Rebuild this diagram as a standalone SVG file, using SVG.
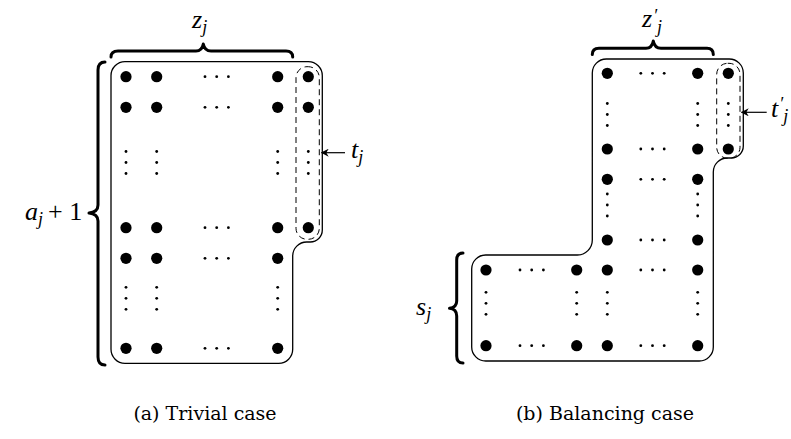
<svg xmlns="http://www.w3.org/2000/svg" width="791" height="439" viewBox="0 0 791 439">
<defs>
<style>
.out{fill:none;stroke:#000;stroke-width:1.3}
.dash{fill:none;stroke:#000;stroke-width:1;stroke-dasharray:6 4}
.br{fill:none;stroke:#000;stroke-width:3;stroke-linecap:round;stroke-linejoin:round}
.arr{fill:none;stroke:#000;stroke-width:1.2}
.m{font-family:"Liberation Serif",serif;font-style:italic;font-size:26px;fill:#000}
.sub{font-family:"Liberation Serif",serif;font-style:italic;font-size:18px}
.r{font-family:"Liberation Serif",serif;font-style:normal;font-size:26px}
.cap{font-family:"DejaVu Serif",serif;font-size:19px;fill:#000}
</style>
<marker id="ah" viewBox="0 0 10 10" refX="9" refY="5" markerWidth="8" markerHeight="8" markerUnits="userSpaceOnUse" orient="auto">
<path d="M0,0 L10,5 L0,10 L3,5 Z" fill="#000"/>
</marker>
<circle id="d" r="5.6" fill="#000"/>
<g id="h"><circle cx="-11.7" r="1.4"/><circle cx="0" r="1.4"/><circle cx="11.7" r="1.4"/></g>
<g id="v"><circle cy="-11" r="1.4"/><circle cy="0" r="1.4"/><circle cy="11" r="1.4"/></g>
</defs>
<rect width="791" height="439" fill="#fff"/>

<g id="caseA">
<path class="out" d="M125,61.7 L308.3,61.7 A14,14 0 0 1 322.3,75.7 L322.3,230 A12,12 0 0 1 310.3,242 L306.7,242 A14,14 0 0 0 292.7,256 L292.7,349.3 A14,14 0 0 1 278.7,363.3 L125,363.3 A14,14 0 0 1 111,349.3 L111,75.7 A14,14 0 0 1 125,61.7 Z"/>
<rect class="dash" x="296" y="66.7" width="23.3" height="172.6" rx="11" ry="11"/>
<g fill="#000">
<use href="#d" x="126" y="76.7"/><use href="#d" x="156.7" y="76.7"/><use href="#d" x="277.7" y="76.7"/><use href="#d" x="308.3" y="76.7"/>
<use href="#d" x="126" y="107.3"/><use href="#d" x="156.7" y="107.3"/><use href="#d" x="277.7" y="107.3"/><use href="#d" x="308.3" y="107.3"/>
<use href="#d" x="126" y="227.7"/><use href="#d" x="156.7" y="227.7"/><use href="#d" x="277.7" y="227.7"/><use href="#d" x="308.3" y="227.7"/>
<use href="#d" x="126" y="258.3"/><use href="#d" x="156.7" y="258.3"/><use href="#d" x="277.7" y="258.3"/>
<use href="#d" x="126" y="348.3"/><use href="#d" x="156.7" y="348.3"/><use href="#d" x="277.7" y="348.3"/>
<use href="#h" x="216.7" y="76.7"/><use href="#h" x="216.7" y="107.3"/><use href="#h" x="216.7" y="227.7"/><use href="#h" x="216.7" y="258.3"/><use href="#h" x="216.7" y="348.3"/>
<use href="#v" x="126" y="162.5"/><use href="#v" x="156.7" y="162.5"/><use href="#v" x="277.7" y="162.5"/><use href="#v" x="308.3" y="162.5"/>
<use href="#v" x="126" y="298.3"/><use href="#v" x="156.7" y="298.3"/><use href="#v" x="277.7" y="298.3"/>
</g>
<path class="br" d="M111,57 Q111,51 118,51 L196,51 Q202,51 203.3,44 Q204.6,51 211,51 L286,51 Q292.7,51 292.7,57"/>
<path class="br" d="M105,62 Q98,62 98,70 L98,205 Q98,212 89,213 Q98,214 98,221 L98,357 Q98,365 105,365"/>
<text class="m" x="192" y="28">z<tspan class="sub" dx="0" dy="5">j</tspan></text>
<text class="m" x="25" y="220">a<tspan class="sub" dy="5">j</tspan><tspan class="r" dx="5" dy="-5">+ 1</tspan></text>
<line class="arr" x1="345" y1="152.7" x2="321.5" y2="152.7" marker-end="url(#ah)"/>
<text class="m" x="351" y="158">t<tspan class="sub" dx="0" dy="5">j</tspan></text>
<text class="cap" x="205" y="420" text-anchor="middle">(a) Trivial case</text>
</g>

<g id="caseB">
<path class="out" d="M606.3,59 L729.3,59 A14,14 0 0 1 743.3,73 L743.3,146 A12,12 0 0 1 731.3,158 L727.3,158 A14,14 0 0 0 713.3,172 L713.3,347 A14,14 0 0 1 699.3,361 L485.7,361 A14,14 0 0 1 471.7,347 L471.7,269 A14,14 0 0 1 485.7,255 L577.3,255 A15,15 0 0 0 592.3,240 L592.3,73 A14,14 0 0 1 606.3,59 Z"/>
<rect class="dash" x="716.7" y="63.3" width="23.3" height="95" rx="11" ry="11"/>
<g fill="#000">
<use href="#d" x="607.3" y="73.3"/><use href="#d" x="697.7" y="73.3"/><use href="#d" x="728.3" y="73.3"/>
<use href="#d" x="607.3" y="149"/><use href="#d" x="697.7" y="149"/><use href="#d" x="728.3" y="149"/>
<use href="#d" x="607.3" y="179.3"/><use href="#d" x="697.7" y="179.3"/>
<use href="#d" x="607.3" y="240"/><use href="#d" x="697.7" y="240"/>
<use href="#d" x="486" y="270"/><use href="#d" x="576.7" y="270"/><use href="#d" x="607.3" y="270"/><use href="#d" x="697.7" y="270"/>
<use href="#d" x="486" y="345.7"/><use href="#d" x="576.7" y="345.7"/><use href="#d" x="607.3" y="345.7"/><use href="#d" x="697.7" y="345.7"/>
<use href="#h" x="652.5" y="73.3"/><use href="#h" x="652.5" y="149"/><use href="#h" x="652.5" y="179.3"/><use href="#h" x="652.5" y="240"/><use href="#h" x="652.5" y="270"/><use href="#h" x="652.5" y="345.7"/>
<use href="#h" x="531.7" y="270"/><use href="#h" x="531.7" y="345.7"/>
<use href="#v" x="607.3" y="114.5"/><use href="#v" x="697.7" y="114.5"/><use href="#v" x="728.3" y="114.5"/>
<use href="#v" x="607.3" y="205"/><use href="#v" x="697.7" y="205"/>
<use href="#v" x="486" y="303.3"/><use href="#v" x="576.7" y="303.3"/><use href="#v" x="607.3" y="303.3"/><use href="#v" x="697.7" y="303.3"/>
</g>
<path class="br" d="M592.3,54.5 Q592.3,48.3 599,48.3 L646,48.3 Q652,48.3 653.3,41 Q654.6,48.3 661,48.3 L707,48.3 Q713.3,48.3 713.3,54.5"/>
<path class="br" d="M463,253 Q456.7,253 456.7,260 L456.7,301 Q456.7,307.5 449.5,308.3 Q456.7,309 456.7,316 L456.7,356 Q456.7,363 463,363"/>
<text class="m" x="642" y="27">z<tspan class="sub" dx="1" dy="-5">′</tspan><tspan class="sub" dx="0" dy="11">j</tspan></text>
<text class="m" x="416" y="315">s<tspan class="sub" dx="0" dy="5">j</tspan></text>
<line class="arr" x1="766.7" y1="112.3" x2="741.5" y2="112.3" marker-end="url(#ah)"/>
<text class="m" x="771" y="117">t<tspan class="sub" dx="1" dy="-7">′</tspan><tspan class="sub" dx="0" dy="12">j</tspan></text>
<text class="cap" x="605" y="420" text-anchor="middle">(b) Balancing case</text>
</g>
</svg>
